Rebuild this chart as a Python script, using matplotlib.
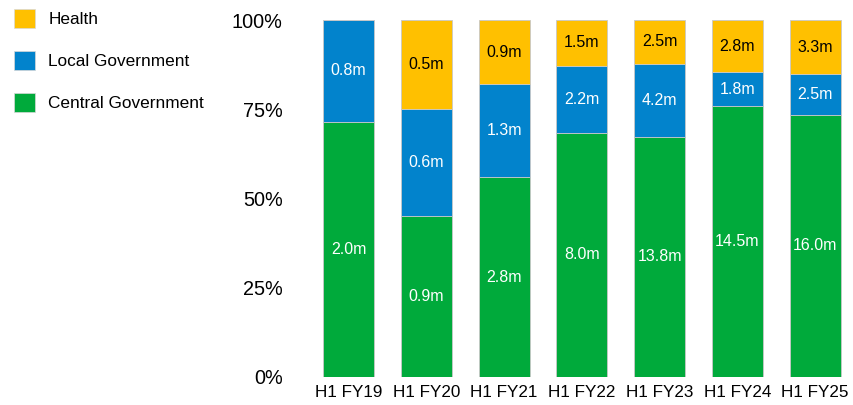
import matplotlib.pyplot as plt
import numpy as np
from matplotlib.patches import Patch

plt.rcParams['font.family'] = ['Liberation Sans', 'DejaVu Sans']

periods = ['H1 FY19', 'H1 FY20', 'H1 FY21', 'H1 FY22', 'H1 FY23', 'H1 FY24', 'H1 FY25']
central = [2.0, 0.9, 2.8, 8.0, 13.8, 14.5, 16.0]
local = [0.8, 0.6, 1.3, 2.2, 4.2, 1.8, 2.5]
health = [0.0, 0.5, 0.9, 1.5, 2.5, 2.8, 3.3]

colors = {'Central Government': '#00AA3B', 'Local Government': '#0283CC', 'Health': '#FFC000'}
text_colors = {'Central Government': 'white', 'Local Government': 'white', 'Health': 'black'}

fig = plt.figure(figsize=(8.54, 4.05), dpi=100)
ax = fig.add_axes([302 / 854, 28 / 405, 552 / 854, 357 / 405])

x = np.arange(len(periods))
totals = np.array(central) + np.array(local) + np.array(health)
bottom = np.zeros(len(periods))

for name, vals in [('Central Government', central), ('Local Government', local), ('Health', health)]:
    vals = np.array(vals)
    pct = vals / totals * 100
    ax.bar(x, pct, 0.655, bottom=bottom, color=colors[name],
           edgecolor='#c8c8c8', linewidth=0.6)
    for i in range(len(x)):
        if vals[i] > 0:
            ax.text(x[i], bottom[i] + pct[i] / 2, f'{vals[i]:.1f}m', ha='center', va='center',
                    fontsize=11.5, color=text_colors[name])
    bottom += pct

ax.set_xlim(-0.6, 6.5)
ax.set_ylim(0, 100)
ax.set_xticks(x)
ax.set_xticklabels(periods, fontsize=12.3)
ax.set_yticks([0, 25, 50, 75, 100])
ax.set_yticklabels(['0%', '25%', '50%', '75%', '100%'], fontsize=14.3)
ax.tick_params(length=0)
ax.tick_params(axis='y', pad=14)
ax.tick_params(axis='x', pad=6)
for s in ax.spines.values():
    s.set_visible(False)

handles = [Patch(facecolor=colors[n], edgecolor='#d8d8d8', linewidth=0.5)
           for n in ['Health', 'Local Government', 'Central Government']]
fig.legend(handles, ['Health', 'Local Government', 'Central Government'],
           loc='upper left', bbox_to_anchor=(-0.002, 1.015), frameon=False, fontsize=12.4,
           handlelength=1.25, handleheight=1.25, handletextpad=0.75, labelspacing=1.38)

fig.savefig('out.png', dpi=100)
